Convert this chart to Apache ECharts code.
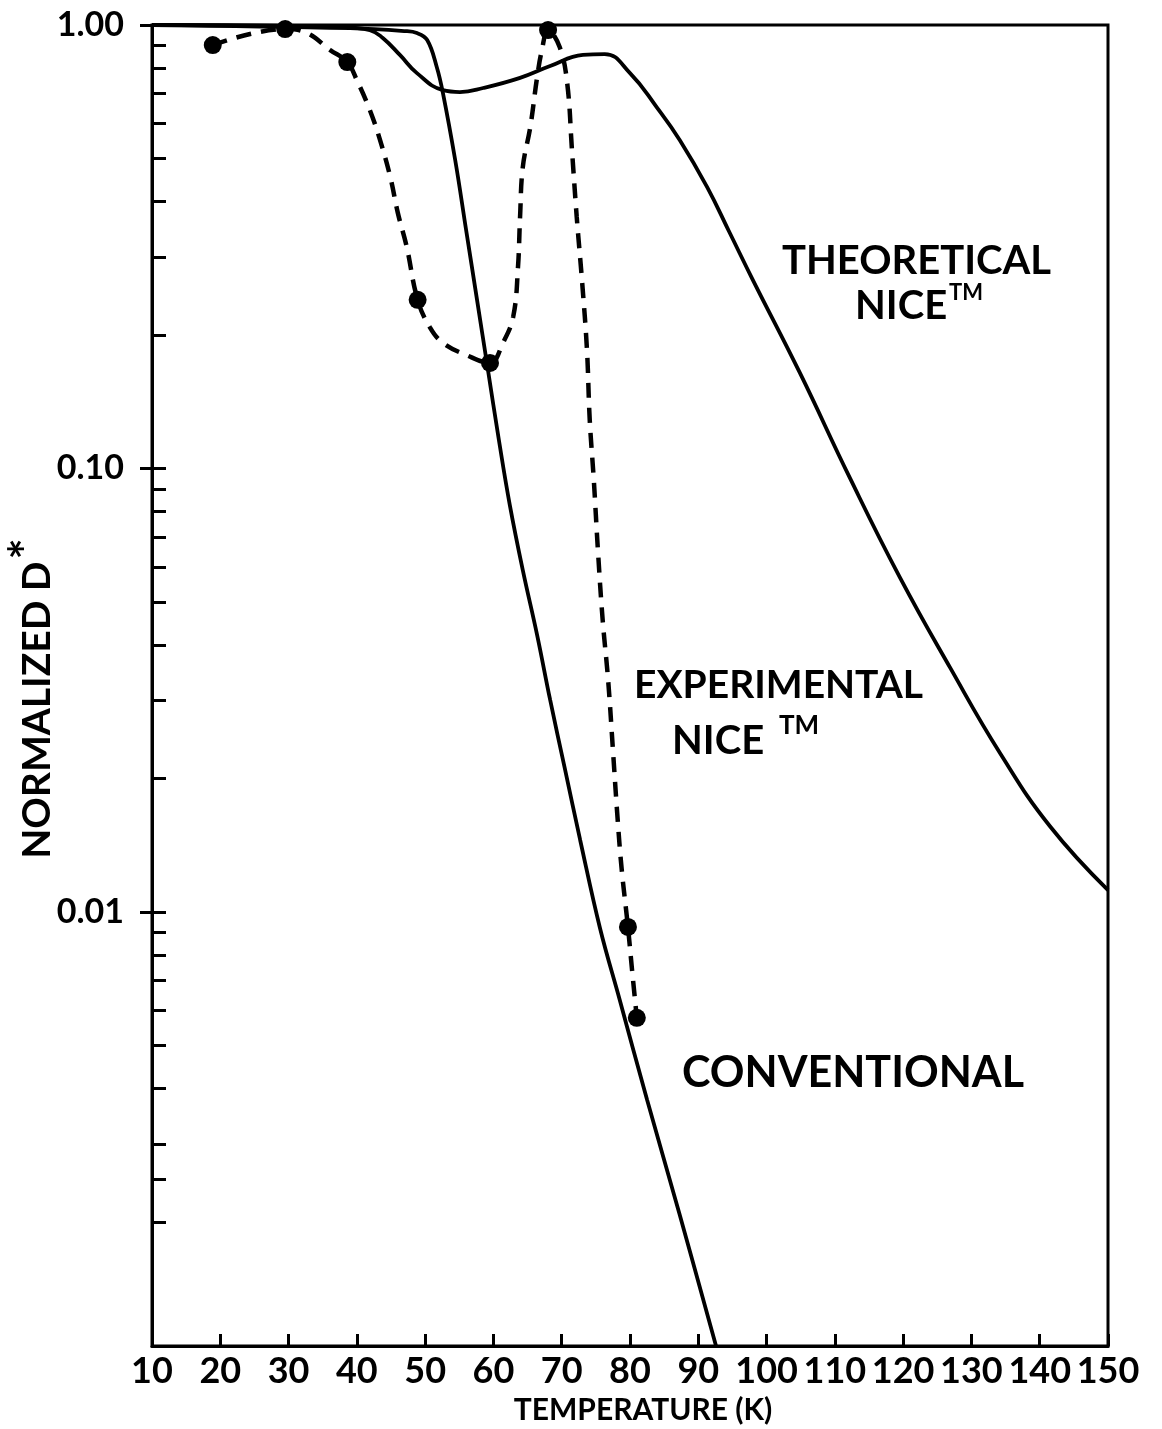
<!DOCTYPE html>
<html>
<head>
<meta charset="utf-8">
<script src="https://cdn.jsdelivr.net/npm/echarts@6/dist/echarts.min.js"></script>
<style>
html,body{margin:0;padding:0;background:#fff;}
#chart{width:1162px;height:1429px;}
</style>
</head>
<body>
<div id="chart"></div>
<script>
// ---- data ----
const xTickValues = [10,20,30,40,50,60,70,80,90,100,110,120,130,140,150];
const yMajorTicks = [1, 0.1, 0.01];
const yMinorTicks = [0.9,0.8,0.7,0.6,0.5,0.4,0.3,0.2,
                     0.09,0.08,0.07,0.06,0.05,0.04,0.03,0.02,
                     0.009,0.008,0.007,0.006,0.005,0.004,0.003,0.0025,0.002];

// Theoretical NICE (solid)
const theoT = [10,37.5,41.9,43.8,46.3,48.8,52.6,55.1,58.5,63.9,68.3,73.1,76.3,80.0,83.9,87.3,91.3,94.6,98.0,104.9,112.2,119.5,126.9,134.2,141.5,150];
const theoD = [1.0,0.990,0.974,0.935,0.856,0.779,0.713,0.706,0.721,0.760,0.808,0.856,0.860,0.779,0.653,0.550,0.431,0.340,0.266,0.164,0.0952,0.0569,0.0355,0.0228,0.0156,0.0112];

// Conventional (solid)
const convT = [10,39.0,47.0,48.8,50.3,51.7,52.6,54.4,56.0,57.6,59.2,60.8,62.4,64.3,66.4,68.3,70.5,72.7,75.6,78.5,82.5,87.3,92.6];
const convD = [1.0,0.984,0.969,0.959,0.925,0.804,0.703,0.496,0.345,0.240,0.1667,0.1159,0.0827,0.0590,0.0421,0.0301,0.0209,0.01453,0.00920,0.00633,0.00377,0.00207,0.00105];

// Experimental NICE (dashed curve)
const expT = [18.9,29.5,32.7,36.1,38.6,40.0,41.9,43.4,44.9,46.0,47.3,48.9,50.7,52.6,56.1,59.5,61.4,62.9,63.6,63.9,64.3,65.4,66.4,67.1,68.0,69.7,70.8,71.5,72.2,73.0,73.7,74.1,74.7,75.3,76.0,76.8,77.5,78.2,78.8,79.7,80.3,81.0];
const expD = [0.901,0.979,0.959,0.878,0.825,0.751,0.643,0.550,0.454,0.377,0.316,0.240,0.208,0.192,0.180,0.173,0.192,0.220,0.285,0.369,0.478,0.589,0.763,0.878,0.974,0.892,0.740,0.523,0.369,0.262,0.185,0.129,0.0942,0.0655,0.0455,0.0333,0.0232,0.0161,0.0124,0.00925,0.00740,0.00577];

// Experimental measured points
const dotT = [18.9,29.5,38.6,48.9,59.5,68.0,79.7,81.0];
const dotD = [0.901,0.979,0.825,0.240,0.173,0.974,0.00925,0.00577];

const yMin = 0.00105, yMax = 1;

const zip = (a,b) => a.map((v,i)=>[v,b[i]]);
const FONT = 'Lato';
const chart = echarts.init(document.getElementById('chart'), null, {renderer:'canvas'});

const option = {
  backgroundColor:'#fff',
  animation:false,
  grid:{left:152, top:25, width:956, height:1321, containLabel:false, outerBoundsMode:'none',
        show:true, borderColor:'#000', borderWidth:3, backgroundColor:'transparent'},
  xAxis:{
    type:'value', min:10, max:150, interval:10,
    axisLine:{show:true, lineStyle:{color:'#000', width:3}},
    axisTick:{show:true, inside:true, length:12, lineStyle:{color:'#000', width:3}},
    axisLabel:{color:'#000', fontFamily:FONT, fontWeight:'bold', fontSize:36, margin:7},
    splitLine:{show:false},
    name:'TEMPERATURE (K)', nameLocation:'middle', nameGap:49,
    nameTextStyle:{color:'#000', fontFamily:FONT, fontWeight:'bold', fontSize:30, padding:[0,0,0,26]}
  },
  yAxis:[{
    type:'log', logBase:10, min:yMin, max:yMax,
    axisLine:{show:true, lineStyle:{color:'#000', width:3}},
    axisTick:{show:true, inside:true, length:14, customValues:yMinorTicks.concat(yMajorTicks), lineStyle:{color:'#000', width:3}},
    axisLabel:{show:false},
    splitLine:{show:false}
  },{
    type:'log', logBase:10, min:yMin, max:yMax, position:'left',
    axisLine:{show:false},
    axisTick:{show:true, inside:false, length:12, customValues:yMajorTicks, lineStyle:{color:'#000', width:3}},
    axisLabel:{show:true, customValues:yMajorTicks, formatter:(v)=>Number(v).toFixed(2), color:'#000', fontFamily:FONT, fontWeight:'bold', fontSize:34, margin:28},
    splitLine:{show:false},
    name:'NORMALIZED D{s|*}', nameLocation:'middle', nameGap:82, nameRotate:90, nameMoveOverlap:false,
    nameTextStyle:{color:'#000', fontFamily:FONT, fontWeight:'bold', fontSize:39, padding:[0,26,0,0],
      rich:{s:{fontFamily:FONT, fontWeight:'bold', fontSize:50, color:'#000', padding:[0,0,16,2]}}}
  }],
  series:[
    {name:'Theoretical', type:'line', data:zip(theoT,theoD), yAxisIndex:0, smooth:0.45, showSymbol:false, lineStyle:{color:'#000', width:3.8}},
    {name:'Conventional', type:'line', data:zip(convT,convD), yAxisIndex:0, smooth:0.4, showSymbol:false, lineStyle:{color:'#000', width:3.8}},
    {name:'Experimental', type:'line', data:zip(expT,expD), yAxisIndex:0, smooth:0.4, showSymbol:false, lineStyle:{color:'#000', width:4.5, type:[15,10]}},
    {name:'Experimental points', type:'scatter', data:zip(dotT,dotD), yAxisIndex:0, symbol:'circle', symbolSize:18, itemStyle:{color:'#000', opacity:1}}
  ],
  graphic:[
    {type:'text', left:782, top:241, style:{text:'THEORETICAL', font:'bold 40px Lato', fill:'#000'}},
    {type:'text', left:855, top:286, style:{text:'NICE', font:'bold 40px Lato', fill:'#000'}},
    {type:'text', left:949, top:282, style:{text:'TM', font:'bold 22px Lato', fill:'#000'}},
    {type:'text', left:634, top:666, style:{text:'EXPERIMENTAL', font:'bold 39px Lato', fill:'#000'}},
    {type:'text', left:672, top:721, style:{text:'NICE', font:'bold 40px Lato', fill:'#000'}},
    {type:'text', left:779, top:713, style:{text:'TM', font:'bold 26px Lato', fill:'#000'}},
    {type:'text', left:682, top:1052, style:{text:'CONVENTIONAL', font:'bold 43px Lato', fill:'#000'}}
  ]
};
chart.setOption(option);
</script>
</body>
</html>
